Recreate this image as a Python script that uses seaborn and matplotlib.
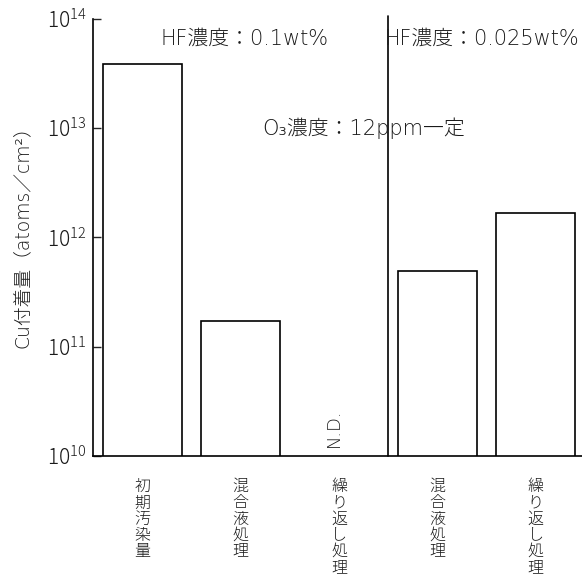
import numpy as np
import pandas as pd
import matplotlib
matplotlib.use("Agg")
import matplotlib.pyplot as plt
from matplotlib.ticker import FixedLocator, NullLocator, LogFormatterMathtext
import seaborn as sns

# ---- Data
steps = ["初期汚染量", "混合液処理_a", "繰り返し処理_a", "混合液処理_b", "繰り返し処理_b"]
step_labels = ["初期汚染量", "混合液処理", "繰り返し処理", "混合液処理", "繰り返し処理"]
cu_amount = [3.85e13, 1.73e11, np.nan, 4.9e11, 1.68e12]  # atoms/cm2, N.D. for the 3rd
y_ticks = [1e10, 1e11, 1e12, 1e13, 1e14]

sns.set_style("white")
plt.rcParams["font.family"] = ["Noto Sans CJK JP", "DejaVu Sans"]
plt.rcParams["font.weight"] = "light"
plt.rcParams["mathtext.fontset"] = "dejavusans"
latin_first = ["DejaVu Sans", "Noto Sans CJK JP"]
ink = "#1a1a1a"

df = pd.DataFrame({"step": steps, "cu": cu_amount})

fig = plt.figure(figsize=(5.82, 5.81), dpi=100)
ax = fig.add_axes([0.160, 0.215, 0.840, 0.753])

sns.barplot(data=df, x="step", y="cu", order=steps, color="white",
            saturation=1, edgecolor="black", linewidth=1.2, width=0.8,
            errorbar=None, ax=ax)

ax.set_yscale("log")
ax.set_ylim(1e10, 1e14)
ax.set_xlim(-0.5, 4.47)
ax.yaxis.set_major_locator(FixedLocator(y_ticks))
ax.yaxis.set_major_formatter(LogFormatterMathtext())
ax.yaxis.set_minor_locator(NullLocator())
ax.tick_params(axis="y", direction="in", length=6, width=1, pad=5,
               labelsize=15, left=True, labelcolor=ink)
ax.tick_params(axis="x", length=0, pad=16, labelcolor=ink)

# vertical stacked Japanese tick labels
ax.set_xticks(range(len(steps)))
ax.set_xticklabels(["\n".join(s) for s in step_labels], fontsize=11.5,
                   linespacing=0.93, va="top")

sns.despine(ax=ax, top=True, right=True)
for sp in ["left", "bottom"]:
    ax.spines[sp].set_color("black")
    ax.spines[sp].set_linewidth(1.2)

ax.set_xlabel("")
ax.set_ylabel("Cu付着量（atoms／cm²）", fontsize=13.5, family=latin_first,
              color=ink, weight="light")
ax.yaxis.set_label_coords(-0.125, 0.513)

# separator between HF concentrations
ax.axvline(2.5, ymin=0, ymax=1.007, color="black", lw=1.2, clip_on=False)

ax.text(0.18, 6.6e13, "HF濃度：0.1wt%", fontsize=15, ha="left", va="center",
        family=latin_first, color=ink)
ax.text(2.46, 6.6e13, "HF濃度：0.025wt%", fontsize=15, ha="left", va="center",
        family=latin_first, color=ink)
ax.text(1.22, 1.0e13, "O₃濃度：12ppm一定", fontsize=15, ha="left", va="center",
        family=latin_first, color=ink)
ax.text(1.95, 1.8e10, "N.D.", fontsize=13, rotation=90, ha="center", va="center",
        family=latin_first, color=ink)

fig.savefig("out.png", dpi=100)
